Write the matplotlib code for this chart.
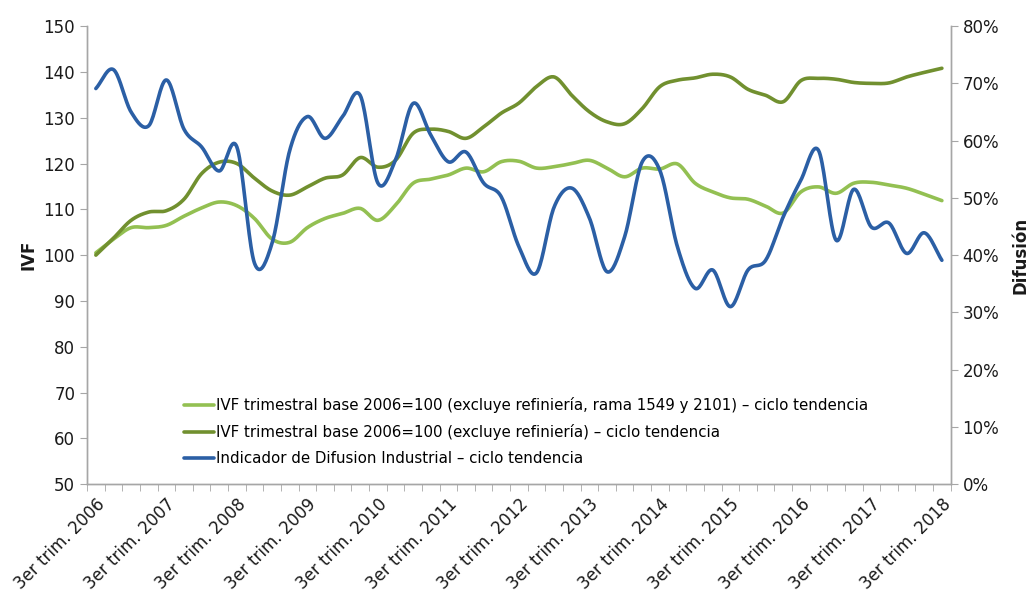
"""IVF trimestral vs. Indicador de Difusion Industrial (ciclo tendencia)."""

import matplotlib

matplotlib.use("Agg")
import matplotlib.pyplot as plt
import numpy as np
from matplotlib.ticker import FixedLocator, FuncFormatter, MultipleLocator

# quarters from 3er trim. 2006 to 3er trim. 2018
years = list(range(2006, 2019))
tick_labels = [f"3er trim. {y}" for y in years]

ivf_rama = [
    100.5, 103.5, 106.0, 106.0, 106.5, 108.5, 110.3, 111.6, 110.8, 108.0,
    103.5, 102.8, 106.0, 108.0, 109.1, 110.2, 107.6, 110.9, 115.7, 116.6,
    117.5, 119.0, 118.2, 120.4, 120.5, 119.0, 119.3, 120.0, 120.7, 119.0,
    117.1, 119.0, 118.8, 119.9, 115.7, 113.8, 112.5, 112.2, 110.7, 109.2,
    113.8, 114.9, 113.5, 115.7, 115.9, 115.3, 114.6, 113.3, 111.9,
]
ivf_refineria = [
    100.0, 103.7, 107.6, 109.4, 109.7, 112.2, 117.8, 120.3, 120.0, 116.8,
    114.0, 113.1, 114.9, 116.8, 117.5, 121.3, 119.2, 120.7, 126.6, 127.5,
    127.0, 125.5, 128.0, 131.0, 133.2, 136.8, 138.9, 134.9, 131.3, 129.1,
    128.7, 132.0, 136.8, 138.2, 138.7, 139.5, 138.9, 136.2, 134.9, 133.5,
    138.1, 138.6, 138.4, 137.7, 137.5, 137.6, 138.9, 139.9, 140.8,
]
difusion = [
    69.1, 72.4, 65.0, 62.6, 70.6, 62.0, 58.9, 54.7, 58.9, 38.6,
    42.1, 58.3, 64.2, 60.4, 64.2, 67.9, 52.6, 56.6, 66.5, 61.0,
    56.3, 58.0, 52.6, 50.2, 41.5, 36.9, 48.4, 51.7, 46.5, 37.1,
    43.2, 56.3, 54.8, 41.4, 34.2, 37.4, 31.0, 37.4, 39.1, 46.7,
    53.1, 58.3, 42.6, 51.5, 44.9, 45.6, 40.3, 43.9, 39.1,
]

LIGHT_GREEN = "#93C052"
DARK_GREEN = "#71902F"
BLUE = "#2B5FA5"
GRAY = "#A6A6A6"
TEXT = "#1a1a1a"


def smooth(x, y, n=20):
    """Catmull-Rom curve through the points, like a smoothed Excel line."""
    x = np.asarray(x, float)
    y = np.asarray(y, float)
    px = np.concatenate([[2 * x[0] - x[1]], x, [2 * x[-1] - x[-2]]])
    py = np.concatenate([[2 * y[0] - y[1]], y, [2 * y[-1] - y[-2]]])
    t = np.linspace(0, 1, n, endpoint=False)[:, None]
    out_x, out_y = [], []
    for i in range(1, len(px) - 2):
        for p, out in ((px, out_x), (py, out_y)):
            p0, p1, p2, p3 = p[i - 1], p[i], p[i + 1], p[i + 2]
            seg = 0.5 * (2 * p1 + (-p0 + p2) * t + (2 * p0 - 5 * p1 + 4 * p2 - p3) * t**2
                         + (-p0 + 3 * p1 - 3 * p2 + p3) * t**3)
            out.extend(seg.ravel())
    out_x.append(x[-1])
    out_y.append(y[-1])
    return np.array(out_x), np.array(out_y)


plt.rcParams["font.family"] = ["DejaVu Sans"]
fig = plt.figure(figsize=(10.3, 5.94), dpi=100)
ax = fig.add_axes([0.0845, 0.185, 0.8385, 0.771])
ax2 = ax.twinx()

xs = np.arange(len(ivf_rama))
lx, ly = smooth(xs, ivf_rama)
ax.plot(lx, ly, color=LIGHT_GREEN, lw=2.6, solid_capstyle="round",
        label="IVF trimestral base 2006=100 (excluye refiniería, rama 1549 y 2101) – ciclo tendencia")
dx, dy = smooth(xs, ivf_refineria)
ax.plot(dx, dy, color=DARK_GREEN, lw=2.6, solid_capstyle="round",
        label="IVF trimestral base 2006=100 (excluye refiniería) – ciclo tendencia")
bx, by = smooth(xs, difusion)
blue_line, = ax2.plot(bx, by, color=BLUE, lw=2.6, solid_capstyle="round",
                      label="Indicador de Difusion Industrial – ciclo tendencia")

ax.set_xlim(-0.5, len(xs) - 0.5)
ax.set_ylim(50, 150)
ax2.set_ylim(0, 80)
ax.yaxis.set_major_locator(MultipleLocator(10))
ax2.yaxis.set_major_locator(MultipleLocator(10))
ax2.yaxis.set_major_formatter(FuncFormatter(lambda v, _: f"{v:.0f}%"))

ax.xaxis.set_major_locator(FixedLocator(xs[::4]))
ax.set_xticklabels(tick_labels)
ax.xaxis.set_minor_locator(FixedLocator(np.arange(-0.5, len(xs), 1.0)))
ax.tick_params(axis="x", which="major", length=0, pad=8)
ax.tick_params(axis="x", which="minor", length=5, color=GRAY, direction="out")
for lab in ax.get_xticklabels():
    lab.set_rotation(45)
    lab.set_ha("right")
    lab.set_rotation_mode("anchor")

for a in (ax, ax2):
    a.tick_params(axis="y", length=5, color=GRAY, labelsize=12, labelcolor=TEXT)
    a.spines["top"].set_visible(False)
    for side in ("left", "right", "bottom"):
        a.spines[side].set_color(GRAY)
        a.spines[side].set_linewidth(1.0)
ax.tick_params(axis="x", labelsize=12, labelcolor=TEXT)

ax.set_ylabel("IVF", fontsize=12, fontweight="bold", color=TEXT, labelpad=4)
ax2.set_ylabel("Difusión", fontsize=12, fontweight="bold", color=TEXT, labelpad=9)

handles, labels = ax.get_legend_handles_labels()
handles.append(blue_line)
labels.append(blue_line.get_label())
ax.legend(handles, labels, loc="lower left", bbox_to_anchor=(0.112, 0.04),
          frameon=False, fontsize=10.8, handlelength=2.0, handletextpad=0.15,
          labelspacing=0.72, borderaxespad=0, borderpad=0)

fig.savefig("out.png", dpi=100)
